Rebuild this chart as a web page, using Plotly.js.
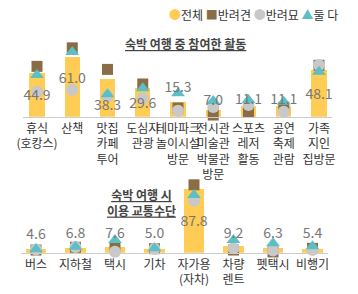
<!DOCTYPE html>
<html><head><meta charset="utf-8">
<script src="https://cdn.plot.ly/plotly-3.0.1.min.js"></script>
<style>html,body{margin:0;padding:0;background:#fff}#chart{width:358px;height:294px}</style>
</head><body><div id="chart"></div>
<script>
// ---- Top chart: activities during overnight trip ----
const actCategories = ['휴식<br>(호캉스)','산책','맛집<br>카페<br>투어','도심지<br>관광','테마파크<br>놀이시설<br>방문','전시관<br>미술관<br>박물관<br>방문','스포츠<br>레저<br>활동','공연<br>축제<br>관람','가족<br>지인<br>집방문'];
const actTotal = [44.9, 61.0, 38.3, 29.6, 15.3, 7.0, 11.1, 11.1, 48.1];
const actDog   = [51.4, 70.3, 48.3, 33.4, 8.9, 1.7, 5.0, 9.6, 52.5];
const actCat   = [25.5, 27.2, 21.0, 18.8, 6.0, 10.0, 12.0, 5.0, 52.7];
const actBoth  = [42.5, 66.0, 22.8, 29.0, 24.0, 16.0, 17.0, 15.3, 46.0];
const actLabelY = [21, 38, 10.2, 12, 29, 16, 17, 17, 22];

// ---- Bottom chart: transport used ----
const trCategories = ['버스','지하철','택시','기차','자가용<br>(자차)','차량<br>렌트','펫택시','비행기'];
const trTotal = [4.6, 6.8, 7.6, 5.0, 87.8, 9.2, 6.3, 5.4];
const trDog   = [3.7, 7.5, 6.5, 5.5, 94.0, 3.7, 1.0, 6.0];
const trCat   = [4.5, 8.0, 1.4, 5.5, 72.0, 6.0, 3.0, 3.7];
const trBoth  = [4.7, 8.3, 17.6, 6.0, 80.0, 17.6, 13.0, 9.0];
const trLabelY = [23.5, 24.5, 24.5, 24.5, 41.5, 25.5, 24.5, 24.5];

const fmt = v => v.toFixed(1);
const C_TOTAL = '#FFCC55', C_DOG = '#8B6D45', C_CAT = '#C8C8C8', C_BOTH = '#5BBFC4';
const FONT = '"Noto Sans CJK KR", "Noto Sans", sans-serif';

function group(cats, total, dog, cat, both, labelY, xa, ya, barW) {
  return [
    {type:'bar', x:cats, y:total, xaxis:xa, yaxis:ya, width:barW,
     marker:{color:C_TOTAL}, hoverinfo:'skip', cliponaxis:false},
    {type:'scatter', mode:'markers', x:cats, y:dog, xaxis:xa, yaxis:ya,
     marker:{symbol:'square', size:11, color:C_DOG}, cliponaxis:false, hoverinfo:'skip'},
    {type:'scatter', mode:'markers', x:cats, y:cat, xaxis:xa, yaxis:ya,
     marker:{symbol:'circle', size:12, color:C_CAT}, cliponaxis:false, hoverinfo:'skip'},
    {type:'scatter', mode:'markers', x:cats, y:both, xaxis:xa, yaxis:ya,
     marker:{symbol:'triangle-up', size:12, color:C_BOTH}, cliponaxis:false, hoverinfo:'skip'},
    {type:'scatter', mode:'text', x:cats, y:labelY, xaxis:xa, yaxis:ya,
     text:total.map(fmt), textposition:'middle center',
     textfont:{family:FONT, size:14, color:'#777'}, cliponaxis:false, hoverinfo:'skip'}
  ];
}

const data = [
  ...group(actCategories, actTotal, actDog, actCat, actBoth, actLabelY, 'x', 'y', 0.43),
  ...group(trCategories, trTotal, trDog, trCat, trBoth, trLabelY, 'x2', 'y2', 0.51)
];

const axX = {type:'category', showline:true, linecolor:'#CCCCCC', linewidth:1.5,
  showgrid:false, zeroline:false, ticks:'', tickangle:0, automargin:false,
  tickfont:{family:FONT, size:12, color:'#333'}, fixedrange:true};
const axY = {visible:false, showgrid:false, zeroline:false, fixedrange:true};

const layout = {
  width:358, height:294, margin:{l:0,r:0,t:0,b:0},
  paper_bgcolor:'#fff', plot_bgcolor:'#fff', showlegend:false, bargap:0,
  font:{family:FONT},
  xaxis: Object.assign({}, axX, {domain:[0.0634,0.9265], range:[-0.406,8.36], anchor:'y'}),
  yaxis: Object.assign({}, axY, {domain:[0.6031,0.8639], range:[0,78.3], anchor:'x'}),
  xaxis2: Object.assign({}, axX, {domain:[0.0578,0.9162], range:[-0.387,7.392], anchor:'y2'}),
  yaxis2: Object.assign({}, axY, {domain:[0.1405,0.4048], range:[0,107.6], anchor:'x2'}),
  annotations:[
    {xref:'paper', yref:'paper', x:0.95, y:0.951, xanchor:'right', yanchor:'middle', showarrow:false,
     font:{family:FONT, size:12, color:'#333'},
     text:'<span style="color:'+C_TOTAL+'">●</span>전체 <span style="color:'+C_DOG+'">■</span>반려견 <span style="color:'+C_CAT+'">●</span>반려묘 <span style="color:'+C_BOTH+'">▲</span>둘 다'},
    {xref:'paper', yref:'paper', x:0.517, y:0.853, xanchor:'center', yanchor:'middle', showarrow:false,
     font:{family:FONT, size:12, color:'#444'}, text:'<b><u>숙박 여행 중 참여한 활동</u></b>'},
    {xref:'paper', yref:'paper', x:0.396, y:0.31, xanchor:'center', yanchor:'middle', showarrow:false,
     font:{family:FONT, size:12, color:'#444'}, text:'<b><u>숙박 여행 시</u></b><br><b><u>이용 교통수단</u></b>'}
  ]
};

Plotly.newPlot('chart', data, layout, {staticPlot:true, displayModeBar:false});
</script></body></html>
